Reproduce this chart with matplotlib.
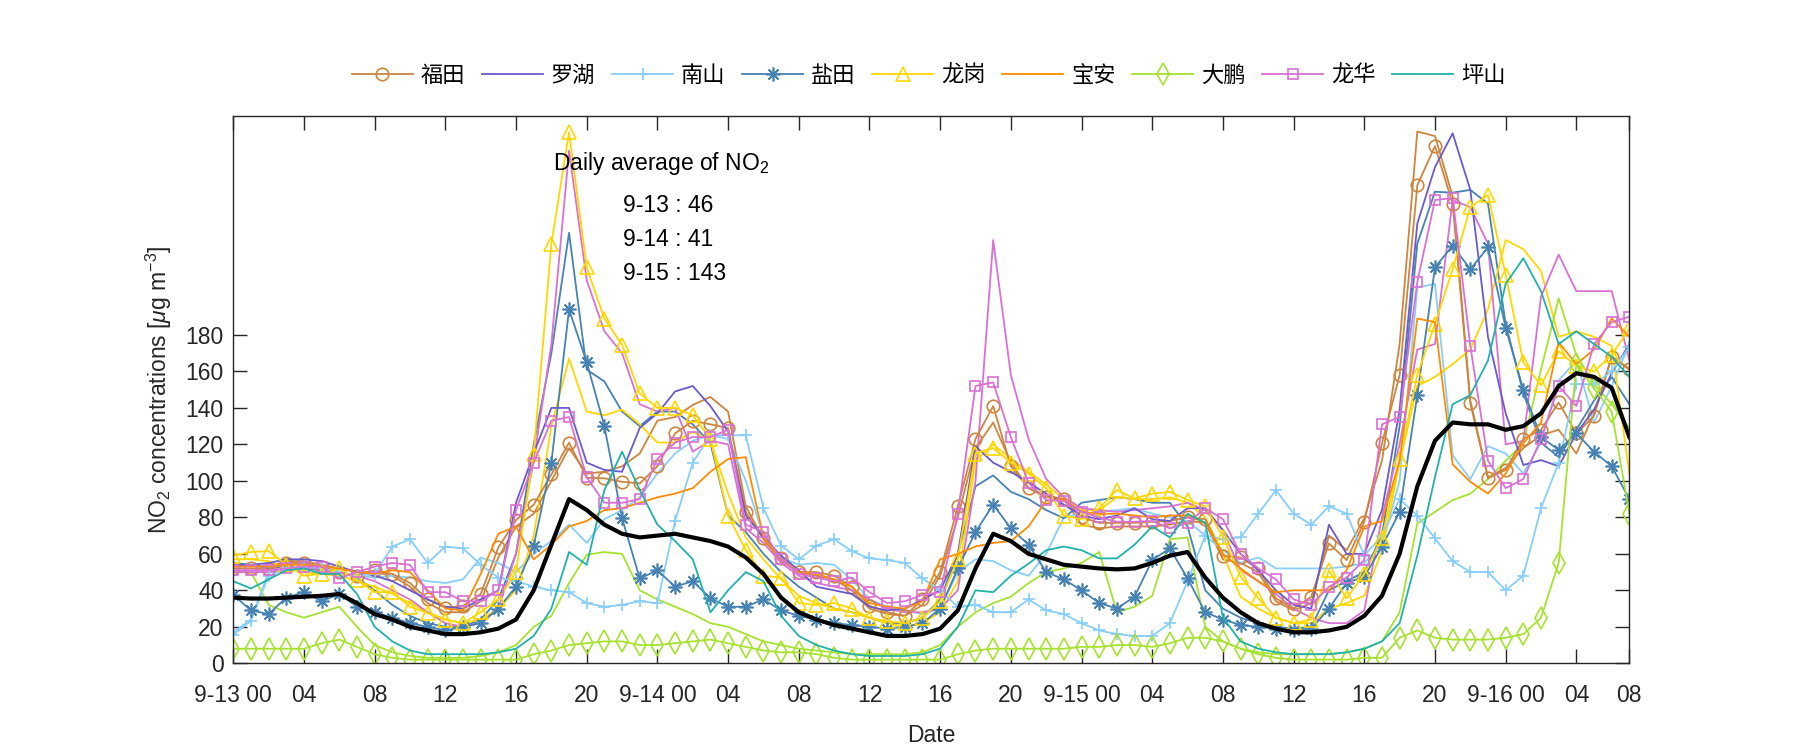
import numpy as np
import matplotlib.pyplot as plt
from matplotlib.lines import Line2D

plt.rcParams['font.family'] = ['Liberation Sans', 'Noto Sans CJK SC']
plt.rcParams['mathtext.fontset'] = 'custom'
plt.rcParams['mathtext.rm'] = 'Liberation Sans'
plt.rcParams['mathtext.it'] = 'Liberation Sans:italic'

hours = np.arange(80)

# hourly NO2 (ug/m3), 9-13 00 .. 9-16 07
futian = [52, 52, 51.5, 55, 55, 53, 50, 48, 51, 49, 44, 35, 30.5, 31.5, 38, 63.5, 78.5,
          87, 103.5, 121, 101.7, 101.4, 99.5, 98.6, 108, 126, 133, 131, 129, 83, 68.5, 57.5, 50,
          50, 48, 42, 31.5, 28, 26, 35, 50, 86, 123, 141, 108, 96, 91, 90,
          80, 77, 77, 77, 77.6, 78, 80, 79, 59, 58, 52, 35.6, 30, 36.5, 65.7, 56.6,
          77.6, 120.6, 158, 262, 283.5, 252, 142.5, 101.4, 106, 123, 128, 143, 126, 135.5, 168, 161.6]
futian_b = [54, 54, 53, 56, 56, 54, 52, 50, 50, 48, 42, 33, 28, 28, 34, 58, 75,
            82, 100, 118, 104, 105, 108, 115, 133, 135, 141.6, 146, 138, 86, 68, 56, 50,
            48, 46, 40, 30, 27, 26, 32, 48, 80, 118, 132, 110, 96, 92, 90,
            76, 74, 75, 75, 75, 76, 78, 77, 57, 55, 50, 34, 29, 33, 70, 62,
            79.5, 111, 175, 291.5, 289, 256, 144, 102, 107, 118, 125, 128, 115, 137, 168, 161]
luohu = [54, 54, 55, 57, 57, 56, 53, 50, 48, 45, 40, 35, 31, 30, 35, 40, 88,
         115, 140, 140, 110, 106, 105, 129, 137, 149, 152, 141, 127, 81, 69, 59, 51,
         42, 40, 38, 31, 29, 30, 35, 40, 60, 119, 110, 105, 99, 93, 87,
         81, 79, 81, 85, 79, 78, 85, 85, 73, 60, 51, 40, 32, 30, 76, 60,
         60, 84, 139, 241, 272, 290.5, 259.5, 179, 137, 108.7, 111.4, 108, 126, 139, 159, 175]
nanshan = [15.5, 23.4, 48, 52, 53, 52, 50, 48, 49, 64, 68, 55, 64, 63, 54, 47, 45,
           42, 40, 39, 33, 31, 32, 34, 33, 78, 110, 125, 125, 125, 85, 64.5, 57,
           64.5, 68, 61.5, 57.5, 56.6, 55, 46.5, 40, 31, 32, 28, 28, 35, 29, 27,
           22, 18, 16, 15, 15, 22, 45, 70, 68, 69, 82, 95, 82, 76, 86, 82,
           59, 70, 90, 81, 68.5, 56, 50, 50, 40, 48, 85, 110, 153, 153, 160, 173.5]
nanshan_b = [17, 24, 50, 52, 53, 52, 50, 48, 47, 48, 47, 45, 44, 46, 58, 55, 50,
             60, 67, 76, 66, 79, 84, 91, 104, 115, 122, 125, 123, 100, 70, 58, 54,
             55, 54, 46, 35, 31, 29, 27, 30, 50, 57, 56, 51, 48, 60, 80,
             82, 83, 84, 85, 82, 80, 78, 70, 62, 55, 58, 52, 52, 52, 52, 53,
             55, 65, 100, 206, 208, 114, 101, 119, 115, 104, 121, 155, 166, 132, 152, 175]
yantian = [37.5, 29, 27, 36, 39, 34, 38, 31, 28, 25, 22, 20, 18, 20, 22, 30, 42,
           64.5, 110, 194, 165, 130, 79.5, 46.5, 51, 42, 45, 35.6, 31, 31, 35, 29, 26,
           24, 22, 21, 20, 19, 20, 22, 30, 52, 72, 87, 74, 65, 50, 46,
           40, 33, 30, 36.5, 56.6, 63, 46.5, 28, 24, 21, 20, 19, 18, 19, 30, 44,
           47.5, 64, 83, 147, 217, 229, 216, 228, 184, 150, 124, 117, 126, 116, 108, 90]
yantian_b = [55, 54, 52, 53, 52, 51, 50, 47, 40, 32, 26, 22, 20, 20, 24, 35, 60,
             120, 170, 236, 161, 154.5, 138, 130, 138, 138, 131, 120.6, 81, 72, 60, 50, 42,
             36, 30, 28, 25, 22, 22, 25, 35, 60, 97, 103, 94, 90, 84, 79.5,
             88, 89.5, 91, 90, 88, 88, 75, 40, 30, 25, 22, 20, 19, 20, 40, 45,
             50, 70, 130, 230, 258.5, 258, 259.5, 252, 186, 148, 121, 113, 128, 144, 157, 142]
longgang = [59, 61, 61.5, 54, 48, 49, 52, 45.6, 39, 39, 31, 27.5, 24, 22, 28, 35, 50,
            115, 230, 291, 217, 189, 174.5, 148, 140, 140, 136, 123, 81, 62, 48, 47, 33,
            32, 33, 30, 25, 23, 22, 25, 34, 57, 115, 118, 110, 104, 96, 81,
            79, 85, 95, 90.4, 93, 94, 89.5, 86, 69.4, 47.5, 35.6, 25, 22, 24, 51, 35.6,
            49, 68.5, 112, 158, 186, 216, 250, 256.7, 213, 165, 152.5, 171, 163, 160, 169, 183.6]
longgang_b = [57, 57, 56, 52, 50, 49, 48, 45, 42, 38, 33, 28, 24, 22, 24, 30, 40,
              70, 130, 167, 138, 136, 139, 131, 121, 121, 127, 122, 93, 69, 57, 46, 37,
              33, 30, 28, 25, 22, 20, 22, 28, 45, 111, 120, 112, 105, 98, 90,
              84, 84, 91, 90, 90, 91, 88, 80, 60, 36.5, 30, 25, 22, 22, 30, 33,
              37, 61.5, 110, 152, 157, 164, 172, 194, 232, 227, 215, 179, 182, 179, 174, 104]
baoan = [53, 53, 53, 54, 54, 53, 52, 50, 49, 51, 50, 40, 30, 29, 49, 71, 75,
         57, 65, 75, 78, 84, 85, 88, 91, 93, 96, 105, 112, 113, 69, 57, 50,
         49, 46, 42, 33, 31, 30, 34, 57, 60, 64, 66, 67, 75, 89, 90,
         83, 82, 82, 81, 80, 81, 81, 77, 60, 52, 45, 39, 40, 40, 40, 51,
         75, 78, 111, 189, 187, 109, 99.5, 93, 104, 120.6, 132, 176, 164, 172, 189, 179]
dapeng = [8, 8, 8, 8, 8, 11, 13, 9, 5, 3, 2, 2, 2, 2, 2, 2, 2,
          5, 7, 10, 11, 12, 12, 10, 10, 11, 12, 13, 11, 9, 7, 6, 6,
          5, 3, 2, 2, 2, 2, 2, 2, 5, 7, 8, 8, 8, 8, 8,
          9, 9, 10, 10, 9, 11, 14, 14, 12, 8, 5, 3, 2, 2, 2, 2,
          3, 3, 14, 18, 14, 13, 13, 13, 14, 16, 25, 55, 164, 150.7, 138, 82]
dapeng_b = [50, 50, 32, 28, 25, 28, 31, 20, 10, 6, 4, 3, 3, 3, 4, 6, 10,
            20, 26, 44, 59.5, 61, 60, 40, 35, 31, 27, 22, 20, 16, 12, 10, 8,
            7, 6, 5, 5, 5, 5, 6, 10, 20, 28, 33, 36.5, 44, 50, 52,
            55, 61, 28, 31, 37, 68, 69, 20, 12, 8, 6, 5, 5, 5, 5, 6,
            8, 12, 28, 76.7, 83, 89.5, 93, 101, 111, 120.6, 161, 200, 169, 153, 142, 129]
longhua = [51, 51, 51, 52, 53, 53, 46.5, 50, 53, 55, 54, 39, 39, 34, 34, 40, 84,
           110, 133, 135, 102, 88, 88, 90, 112, 121, 124, 124, 128, 76, 72, 57, 49,
           47, 45, 47, 39, 33, 34, 37.5, 39, 82, 152, 154, 124, 99, 89.5, 89,
           83, 80, 77.6, 77.6, 78, 74, 77, 85, 79, 60, 52, 46, 35, 32, 42, 47,
           56.6, 131, 135, 209, 254, 255, 174, 111, 96, 101, 123, 152, 141, 175, 187, 190]
longhua_b = [50, 50, 50, 51, 52, 52, 50, 48, 45, 40, 35, 28, 22, 20, 22, 30, 60,
             111, 175, 281, 210, 182, 170, 142, 138, 140, 116, 122, 120, 74, 66, 55, 48,
             44, 42, 40, 35, 30, 28, 28, 30, 40, 100, 232, 158, 123, 101, 91,
             85, 84, 83, 84, 85, 86, 88, 84, 73, 51, 45, 38, 30, 25, 22, 22,
             29, 80, 120, 172, 175, 254, 250, 230, 120, 122, 201, 224, 204, 204, 204, 166]
pingshan = [45, 41, 46, 51, 52, 49, 49, 38, 20, 12, 7, 5, 5, 5, 5, 6, 8,
            15, 30, 61, 54, 95, 116, 95, 76, 67, 57, 28, 40, 50, 45, 26, 15,
            10, 7, 5, 4, 4, 4, 5, 8, 20, 40, 39, 48, 54.6, 62, 64,
            62, 57.5, 57.5, 65, 75, 69, 82, 77, 25, 12, 8, 6, 5, 5, 5, 6,
            8, 12, 22, 59, 102, 142, 147, 166, 208, 222, 204, 175, 182, 175, 168, 157]
city_mean = [36, 35.5, 35.5, 36, 36.5, 37, 38, 33, 27, 24, 20, 18, 16, 16, 17, 19, 24,
             40, 65, 90, 84, 76, 71, 69, 70, 71, 69, 67, 64, 58, 49, 36, 28,
             24, 21, 19, 17, 15, 15, 16, 19, 29, 52, 71, 67, 60, 57, 54,
             53, 52, 51.5, 52, 55, 59, 61, 47, 36, 28, 22, 19, 17, 17, 18, 20,
             26, 37, 60, 97, 122, 132, 131, 131, 128, 130, 137, 152, 159, 157, 151, 124]

names = ['福田', '罗湖', '南山', '盐田', '龙岗', '宝安', '大鹏', '龙华', '坪山']
colors = ['#CD853F', '#6A5ACD', '#87CEFA', '#4682B4', '#FFD700',
          '#FF8C00', '#A6E22E', '#DA70D6', '#20B2AA']
markers = ['o', None, '+', (8, 2, 0), '^', None, 'd', 's', None]
msizes = [9, 0, 9, 10, 9.5, 0, 11, 6.5, 0]
main = [futian, luohu, nanshan, yantian, longgang, baoan, dapeng, longhua, pingshan]
extra = {0: futian_b, 2: nanshan_b, 3: yantian_b, 4: longgang_b, 6: dapeng_b, 7: longhua_b}

xticks = list(range(0, 80, 4)) + [79]
xlabels = ['9-13 00', '04', '08', '12', '16', '20', '9-14 00', '04', '08', '12', '16', '20',
           '9-15 00', '04', '08', '12', '16', '20', '9-16 00', '04', '08']

fig = plt.figure(figsize=(18, 7.5), dpi=100)
ax = fig.add_axes([0.1296, 0.1156, 0.7756, 0.7297])

for i, c in extra.items():
    ax.plot(hours, c, color=colors[i], lw=1.3)

handles = []
for i, s in enumerate(main):
    ax.plot(hours, s, color=colors[i], lw=1.3, marker=markers[i], ms=msizes[i],
            mfc='none', mew=1.2)
    handles.append(Line2D([], [], color=colors[i], lw=1.3, marker=markers[i],
                          ms=msizes[i], mfc='none', mew=1.2))

ax.plot(hours, city_mean, color='black', lw=3)

ax.set_xlim(0, 79)
ax.set_ylim(0, 300)
ax.set_xticks(xticks)
ax.set_xticklabels(xlabels)
ax.set_yticks(range(0, 181, 20))
ax.tick_params(direction='in', length=10, width=1, top=True, right=True,
               labelsize=16.5, colors='#262626')
ax.tick_params(axis='x', pad=15)
ax.tick_params(axis='y', pad=7)
for sp in ax.spines.values():
    sp.set_linewidth(1)
    sp.set_color('#262626')

ax.set_xlabel('Date', fontsize=16.5, color='#262626', labelpad=12)
ax.set_ylabel(r'NO$_2$ concentrations [$\mu$g m$^{-3}$]', fontsize=16.5, color='#262626',
              labelpad=8)

ax.text(18.1, 274, r'Daily average of NO$_2$', fontsize=16.5, va='center')
for k, t in enumerate(['9-13 : 46', '9-14 : 41', '9-15 : 143']):
    ax.text(22.05, 251 - k * 18.7, t, fontsize=16.5, va='center')

fig.legend(handles, names, loc='center', bbox_to_anchor=(0.516, 0.9), ncol=9,
           frameon=False, prop={'family': ['Noto Sans CJK SC'], 'size': 16},
           handlelength=2.75, columnspacing=0.75, handletextpad=0.35)

fig.savefig('out.png', dpi=100)
